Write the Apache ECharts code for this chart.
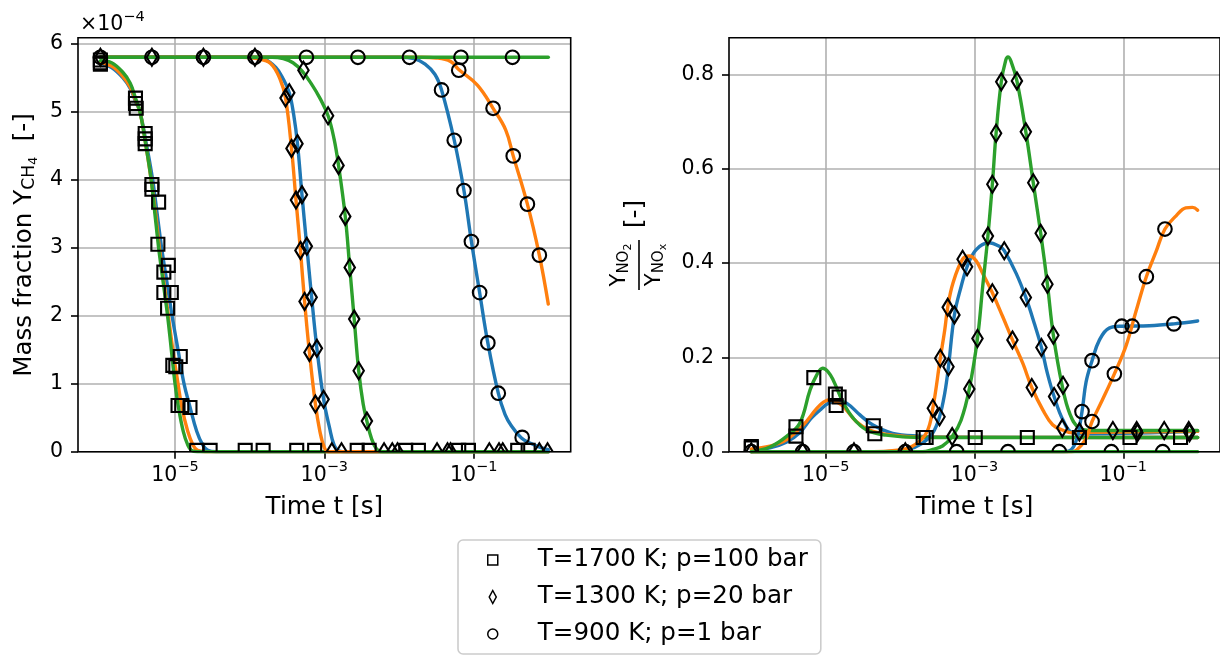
<!DOCTYPE html>
<html><head><meta charset="utf-8">
<script src="https://cdn.jsdelivr.net/npm/echarts@6/dist/echarts.min.js"></script>
<style>html,body{margin:0;padding:0;background:#fff}#c{width:1220px;height:657px}</style>
</head><body><div id="c"></div>
<script>
// ---------- DATA ----------
// Each point: [log10(time / s), value]
// Left panel values: CH4 mass fraction in units of 1e-4; right panel: Y_NO2 / Y_NOx
const conditions = ['T=1700 K; p=100 bar', 'T=1300 K; p=20 bar', 'T=900 K; p=1 bar'];
const xTickExponents = [-5, -3, -1];
const leftYTicks = [0, 1, 2, 3, 4, 5, 6];
const rightYTicks = [0, 0.2, 0.4, 0.6, 0.8];

// ---- Left panel: Y_CH4 ----
const ch4_1700_blue = [[-6,5.71],[-5.85,5.65],[-5.7,5.5],[-5.6,5.34],[-5.53,5.15],[-5.47,5.0],[-5.38,4.5],[-5.3,4.0],[-5.24,3.5],[-5.18,3.0],[-5.11,2.5],[-5.04,2.0],[-4.96,1.5],[-4.88,1.0],[-4.8,0.66],[-4.71,0.3],[-4.63,0.1],[-4.56,0.02],[-4.45,0],[0,0]];
const ch4_1700_orange = [[-6,5.72],[-5.85,5.67],[-5.7,5.52],[-5.6,5.36],[-5.53,5.17],[-5.47,5.0],[-5.39,4.5],[-5.32,4.0],[-5.26,3.5],[-5.21,3.0],[-5.15,2.5],[-5.09,2.0],[-5.03,1.5],[-4.96,1.0],[-4.91,0.66],[-4.83,0.3],[-4.76,0.1],[-4.7,0.02],[-4.6,0],[0,0]];
const ch4_1700_green = [[-6,5.75],[-5.85,5.72],[-5.7,5.58],[-5.6,5.42],[-5.53,5.2],[-5.47,5.0],[-5.39,4.5],[-5.32,4.0],[-5.27,3.5],[-5.22,3.0],[-5.16,2.5],[-5.1,2.0],[-5.05,1.5],[-5.0,1.0],[-4.955,0.66],[-4.89,0.3],[-4.83,0.1],[-4.78,0.02],[-4.7,0],[0,0]];
const ch4_1300_blue = [[-6,5.8],[-4.0,5.8],[-3.8,5.77],[-3.65,5.65],[-3.55,5.48],[-3.47,5.28],[-3.41,4.95],[-3.36,4.53],[-3.3,3.78],[-3.235,3.02],[-3.17,2.27],[-3.1,1.52],[-3.01,0.77],[-2.93,0.35],[-2.87,0.1],[-2.8,0.01],[-2.7,0],[0,0]];
const ch4_1300_orange = [[-6,5.8],[-4.1,5.8],[-3.9,5.78],[-3.72,5.71],[-3.59,5.47],[-3.52,5.2],[-3.44,4.46],[-3.38,3.7],[-3.32,2.96],[-3.265,2.21],[-3.2,1.46],[-3.12,0.7],[-3.06,0.3],[-3.0,0.06],[-2.95,0],[0,0]];
const ch4_1300_green = [[-6,5.8],[-3.7,5.8],[-3.55,5.78],[-3.42,5.72],[-3.3,5.6],[-3.18,5.42],[-3.06,5.2],[-2.95,4.94],[-2.87,4.6],[-2.81,4.21],[-2.72,3.46],[-2.66,2.71],[-2.6,1.95],[-2.54,1.19],[-2.48,0.7],[-2.43,0.45],[-2.37,0.2],[-2.3,0.04],[-2.22,0],[0,0]];
const ch4_900_blue = [[-6,5.8],[-2.0,5.8],[-1.8,5.78],[-1.65,5.7],[-1.52,5.55],[-1.43,5.32],[-1.26,4.58],[-1.13,3.84],[-1.03,3.09],[-0.92,2.34],[-0.81,1.6],[-0.67,0.86],[-0.58,0.55],[-0.5,0.39],[-0.36,0.2],[-0.23,0.12],[-0.1,0.06],[0,0.03]];
const ch4_900_orange = [[-6,5.8],[-1.7,5.8],[-1.5,5.79],[-1.31,5.74],[-1.2,5.62],[-0.95,5.39],[-0.74,5.05],[-0.57,4.73],[-0.47,4.35],[-0.28,3.64],[-0.12,2.89],[0,2.17]];
const ch4_900_green = [[-6,5.8],[0,5.8]];

const ch4_1700_markers = [[-6,5.76],[-6,5.72],[-6,5.7],[-5.53,5.2],[-5.53,5.12],[-5.52,5.05],[-5.4,4.68],[-5.4,4.6],[-5.4,4.53],[-5.31,3.93],[-5.31,3.86],[-5.22,3.67],[-5.23,3.05],[-5.09,2.74],[-5.15,2.64],[-5.15,2.34],[-5.05,2.34],[-5.1,2.11],[-4.93,1.4],[-5.03,1.27],[-4.99,1.25],[-4.96,0.68],[-4.91,0.68],[-4.8,0.65],[-4.71,0.02],[-4.53,0.02],[-4.06,0.02],[-3.82,0.02],[-3.37,0.02],[-3.13,0.02],[-2.56,0.02],[-2.4,0.02],[-1.91,0.02],[-1.74,0.02],[-1.2,0.02],[-1.07,0.02],[-0.41,0.02],[-0.27,0.02]];
const ch4_1300_markers = [[-6,5.8],[-5.31,5.8],[-4.62,5.8],[-3.93,5.8],[-3.52,5.2],[-3.44,4.46],[-3.38,3.7],[-3.32,2.96],[-3.265,2.21],[-3.2,1.46],[-3.12,0.7],[-3.47,5.28],[-3.36,4.53],[-3.3,3.78],[-3.235,3.02],[-3.17,2.27],[-3.1,1.52],[-3.01,0.77],[-3.28,5.61],[-2.95,4.94],[-2.81,4.21],[-2.72,3.46],[-2.66,2.71],[-2.6,1.95],[-2.54,1.19],[-2.43,0.45],[-2.9,0],[-2.77,0],[-2.2,0],[-2.09,0],[-2.02,0],[-1.49,0],[-1.35,0],[-1.31,0],[-0.79,0],[-0.66,0],[-0.61,0],[-0.12,0],[-0.01,0]];
const ch4_900_markers = [[-6,5.8],[-5.31,5.8],[-4.62,5.8],[-3.93,5.8],[-3.24,5.8],[-2.55,5.8],[-1.86,5.8],[-1.17,5.8],[-0.48,5.8],[-1.43,5.32],[-1.26,4.58],[-1.13,3.84],[-1.03,3.09],[-0.92,2.34],[-0.81,1.6],[-0.67,0.86],[-0.35,0.21],[-1.2,5.61],[-0.74,5.05],[-0.47,4.35],[-0.28,3.64],[-0.12,2.89]];

// ---- Right panel: Y_NO2 / Y_NOx ----
const no2_1700_blue = [[-6,0.004],[-5.75,0.008],[-5.53,0.02],[-5.35,0.04],[-5.2,0.07],[-5.08,0.088],[-4.97,0.102],[-4.85,0.108],[-4.72,0.103],[-4.54,0.078],[-4.37,0.057],[-4.1,0.039],[-3.74,0.033],[-3.3,0.031],[0,0.03]];
const no2_1700_orange = [[-6,0.006],[-5.75,0.012],[-5.53,0.025],[-5.3,0.057],[-5.12,0.092],[-5.03,0.105],[-4.95,0.11],[-4.86,0.106],[-4.77,0.097],[-4.59,0.064],[-4.41,0.046],[-4.1,0.035],[-3.74,0.031],[0,0.03]];
const no2_1700_green = [[-6,0.0],[-5.75,0.01],[-5.53,0.032],[-5.35,0.06],[-5.21,0.131],[-5.12,0.163],[-5.04,0.177],[-4.97,0.17],[-4.9,0.152],[-4.77,0.106],[-4.63,0.071],[-4.45,0.046],[-4.19,0.035],[-3.74,0.03],[0,0.03]];
const no2_1300_blue = [[-6,0],[-4.2,0],[-3.9,0.005],[-3.7,0.018],[-3.56,0.04],[-3.47,0.074],[-3.4,0.124],[-3.35,0.18],[-3.27,0.29],[-3.18,0.35],[-3.1,0.392],[-2.98,0.428],[-2.81,0.443],[-2.66,0.435],[-2.6,0.426],[-2.44,0.378],[-2.31,0.327],[-2.19,0.269],[-2.1,0.221],[-2.02,0.166],[-1.93,0.117],[-1.81,0.067],[-1.68,0.04],[-1.5,0.038],[0,0.043]];
const no2_1300_orange = [[-6,0],[-4.5,0],[-4.0,0.004],[-3.8,0.015],[-3.64,0.042],[-3.56,0.092],[-3.46,0.198],[-3.4,0.258],[-3.36,0.306],[-3.29,0.357],[-3.16,0.408],[-3.07,0.415],[-2.98,0.405],[-2.89,0.378],[-2.76,0.337],[-2.62,0.286],[-2.49,0.237],[-2.35,0.187],[-2.23,0.136],[-2.08,0.088],[-1.95,0.057],[-1.82,0.046],[-1.68,0.04],[-1.5,0.041],[0,0.043]];
const no2_1300_green = [[-6,0],[-3.7,0],[-3.56,0.005],[-3.43,0.012],[-3.3,0.032],[-3.18,0.067],[-3.07,0.133],[-2.96,0.24],[-2.89,0.35],[-2.82,0.457],[-2.76,0.567],[-2.71,0.675],[-2.64,0.784],[-2.58,0.83],[-2.55,0.837],[-2.51,0.828],[-2.43,0.786],[-2.31,0.678],[-2.21,0.57],[-2.11,0.463],[-2.02,0.355],[-1.94,0.247],[-1.82,0.139],[-1.72,0.081],[-1.59,0.05],[-1.41,0.045],[0,0.045]];
const no2_900_blue = [[-6,0],[-1.8,0],[-1.72,0.002],[-1.63,0.025],[-1.555,0.085],[-1.5,0.148],[-1.42,0.193],[-1.32,0.237],[-1.19,0.262],[-1.02,0.266],[-0.65,0.267],[-0.32,0.271],[0,0.277]];
const no2_900_orange = [[-6,0],[-1.7,0],[-1.63,0.003],[-1.5,0.028],[-1.42,0.064],[-1.28,0.11],[-1.12,0.165],[-0.96,0.226],[-0.83,0.297],[-0.69,0.371],[-0.56,0.424],[-0.44,0.472],[-0.29,0.5],[-0.16,0.517],[-0.07,0.518],[0,0.512]];
const no2_900_green = [[-6,0],[0,0]];

const no2_1700_markers = [[-6,0.011],[-6,0.008],[-5.4,0.053],[-5.4,0.033],[-5.16,0.157],[-4.87,0.122],[-4.82,0.116],[-4.86,0.098],[-4.36,0.055],[-4.34,0.038],[-3.69,0.03],[-3.65,0.03],[-2.99,0.03],[-2.29,0.03],[-1.59,0.03],[-0.91,0.03],[-0.23,0.03]];
const no2_1300_markers = [[-6,0],[-5.31,0],[-4.62,0],[-3.93,0],[-3.56,0.092],[-3.46,0.198],[-3.36,0.306],[-3.16,0.408],[-2.76,0.337],[-2.49,0.237],[-2.23,0.136],[-1.82,0.05],[-3.47,0.074],[-3.35,0.18],[-3.27,0.29],[-3.1,0.392],[-2.6,0.426],[-2.31,0.327],[-2.1,0.221],[-1.93,0.117],[-3.3,0.032],[-3.07,0.133],[-2.96,0.24],[-2.82,0.457],[-2.76,0.567],[-2.71,0.675],[-2.64,0.784],[-2.43,0.786],[-2.31,0.678],[-2.21,0.57],[-2.11,0.463],[-2.02,0.355],[-1.94,0.247],[-1.81,0.141],[-1.59,0.042],[-1.14,0.045],[-0.82,0.045],[-0.81,0.04],[-0.45,0.045],[-0.12,0.045],[-0.11,0.04]];
const no2_900_markers = [[-6,0],[-5.31,0],[-4.62,0],[-3.93,0],[-3.24,0],[-2.55,0],[-1.86,0],[-1.16,0],[-0.47,0],[-1.555,0.085],[-1.42,0.193],[-1.02,0.266],[-0.88,0.266],[-0.32,0.271],[-1.42,0.064],[-1.12,0.165],[-0.69,0.371],[-0.44,0.472]];

// ---------- BUILD ----------
const FONT = 'DejaVu Sans';
const C_BLUE = '#1f77b4', C_ORANGE = '#ff7f0e', C_GREEN = '#2ca02c';
const toT = arr => arr.map(p => [Math.pow(10, p[0]), p[1]]);

function lineSeries(arr, color, gi) {
  return {type: 'line', xAxisIndex: gi, yAxisIndex: gi, data: toT(arr), showSymbol: false,
    symbol: 'none', smooth: 0.4, clip: true, z: 2,
    lineStyle: {color: color, width: 3.4, cap: 'round', join: 'round'}, itemStyle: {color: color}, silent: true};
}
function markerSeries(arr, name, kind, gi) {
  return {type: 'custom', name: name, xAxisIndex: gi, yAxisIndex: gi, data: toT(arr), clip: true, z: 3,
    encode: {x: 0, y: 1}, silent: true,
    itemStyle: {color: 'rgba(0,0,0,0)', borderColor: '#000', borderWidth: 1.5},
    renderItem: function (params, api) {
      const p = api.coord([api.value(0), api.value(1)]);
      const st = {fill: 'none', stroke: '#000', lineWidth: 2.1};
      if (kind === 'square') return {type: 'rect', shape: {x: p[0] - 6.5, y: p[1] - 6.5, width: 13, height: 13}, style: st};
      if (kind === 'circle') return {type: 'circle', shape: {cx: p[0], cy: p[1], r: 6.8}, style: st};
      return {type: 'polygon', shape: {points: [[p[0], p[1] - 8.5], [p[0] + 5.2, p[1]], [p[0], p[1] + 8.5], [p[0] - 5.2, p[1]]]}, style: st};
    }};
}

const xTicks = xTickExponents.map(e => Math.pow(10, e));
function xAxisCfg(gi) {
  return {type: 'log', logBase: 10, gridIndex: gi, min: Math.pow(10, -6.3), max: Math.pow(10, 0.3),
    name: 'Time t [s]', nameLocation: 'middle', nameGap: 43,
    nameTextStyle: {fontFamily: FONT, fontSize: 24.6, color: '#000'},
    axisLine: {show: false},
    axisTick: {show: true, inside: false, length: 7, lineStyle: {color: '#000', width: 1.6}, customValues: xTicks},
    axisLabel: {show: true, margin: 8, customValues: xTicks, color: '#000',
      formatter: v => '{b|10}{s|\u2212' + Math.round(-Math.log10(v)) + '}',
      rich: {b: {fontFamily: FONT, fontSize: 20.5, color: '#000'},
             s: {fontFamily: FONT, fontSize: 14.5, color: '#000', padding: [0, 0, 16, 0]}}},
    splitLine: {show: true, lineStyle: {color: '#b0b0b0', width: 1.6}},
    minorTick: {show: false}, minorSplitLine: {show: false}};
}
function yAxisCfg(gi, max, ticks, fmt) {
  return {type: 'value', gridIndex: gi, min: 0, max: max,
    axisLine: {show: false},
    axisTick: {show: true, inside: false, length: 7, lineStyle: {color: '#000', width: 1.6}, customValues: ticks},
    axisLabel: {show: true, margin: 15, customValues: ticks, color: '#000', fontFamily: FONT, fontSize: 20.5, formatter: fmt},
    splitLine: {show: true, lineStyle: {color: '#b0b0b0', width: 1.6}}};
}

const series = [
  lineSeries(ch4_1700_blue, C_BLUE, 0), lineSeries(ch4_1700_orange, C_ORANGE, 0), lineSeries(ch4_1700_green, C_GREEN, 0),
  lineSeries(ch4_1300_blue, C_BLUE, 0), lineSeries(ch4_1300_orange, C_ORANGE, 0), lineSeries(ch4_1300_green, C_GREEN, 0),
  lineSeries(ch4_900_blue, C_BLUE, 0), lineSeries(ch4_900_orange, C_ORANGE, 0), lineSeries(ch4_900_green, C_GREEN, 0),
  lineSeries(no2_1700_blue, C_BLUE, 1), lineSeries(no2_1700_orange, C_ORANGE, 1), lineSeries(no2_1700_green, C_GREEN, 1),
  lineSeries(no2_1300_blue, C_BLUE, 1), lineSeries(no2_1300_orange, C_ORANGE, 1), lineSeries(no2_1300_green, C_GREEN, 1),
  lineSeries(no2_900_blue, C_BLUE, 1), lineSeries(no2_900_orange, C_ORANGE, 1), lineSeries(no2_900_green, C_GREEN, 1),
  markerSeries(ch4_1700_markers, conditions[0], 'square', 0),
  markerSeries(ch4_1300_markers, conditions[1], 'diamond', 0),
  markerSeries(ch4_900_markers, conditions[2], 'circle', 0),
  markerSeries(no2_1700_markers, conditions[0], 'square', 1),
  markerSeries(no2_1300_markers, conditions[1], 'diamond', 1),
  markerSeries(no2_900_markers, conditions[2], 'circle', 1)
];

const option = {
  animation: false,
  backgroundColor: '#fff',
  textStyle: {fontFamily: FONT},
  grid: [
    {left: 78, top: 37.7, width: 492.7, height: 414, show: true, borderColor: '#000', borderWidth: 1.6, backgroundColor: 'rgba(0,0,0,0)', z: 10},
    {left: 729, top: 37.7, width: 492.7, height: 414, show: true, borderColor: '#000', borderWidth: 1.6, backgroundColor: 'rgba(0,0,0,0)', z: 10}
  ],
  xAxis: [xAxisCfg(0), xAxisCfg(1)],
  yAxis: [yAxisCfg(0, 6.088, leftYTicks, v => String(Math.round(v))),
          yAxisCfg(1, 0.8776, rightYTicks, v => v.toFixed(1))],
  legend: {
    orient: 'vertical', left: 458, top: 540, padding: [6, 13, 6, 29],
    itemWidth: 10, itemHeight: 13, itemGap: 9, symbolKeepAspect: true,
    backgroundColor: '#fff', borderColor: '#cccccc', borderWidth: 1.6, borderRadius: 5,
    textStyle: {fontFamily: FONT, fontSize: 24.6, color: '#000', lineHeight: 28, padding: [0, 0, 0, 35]},
    itemStyle: {color: 'rgba(0,0,0,0)', borderColor: '#000', borderWidth: 1.5},
    data: [
      {name: conditions[0], icon: 'path://M0,0 L10,0 L10,10 L0,10 Z'},
      {name: conditions[1], icon: 'path://M3.5,0 L7,6.5 L3.5,13 L0,6.5 Z'},
      {name: conditions[2], icon: 'circle'}
    ]
  },
  graphic: [
    {type: 'text', x: 80, y: 25, silent: true, style: {
      text: '{a|\u00d710}{s|\u22124}', verticalAlign: 'middle', align: 'left',
      rich: {a: {fontFamily: FONT, fontSize: 20.5, fill: '#000'},
             s: {fontFamily: FONT, fontSize: 14.5, fill: '#000', padding: [0, 0, 16, 0]}}}},
    {type: 'text', x: 25, y: 245, rotation: Math.PI / 2, silent: true, style: {
      text: '{a|Mass fraction Y}{b|CH}{c|4}{a|  [-]}', align: 'center', verticalAlign: 'middle',
      rich: {a: {fontFamily: FONT, fontSize: 24.6, fill: '#000'},
             b: {fontFamily: FONT, fontSize: 17.2, fill: '#000', padding: [10, 0, 0, 0]},
             c: {fontFamily: FONT, fontSize: 12.5, fill: '#000', padding: [18, 0, 0, 0]}}}},
    {type: 'group', x: 639, y: 265, rotation: Math.PI / 2, silent: true, children: [
      {type: 'line', shape: {x1: -25, y1: 0, x2: 25, y2: 0}, style: {stroke: '#000', lineWidth: 1.6}},
      {type: 'text', x: 0, y: -19, style: {text: '{a|Y}{b|NO}{c|2}', align: 'center', verticalAlign: 'middle',
        rich: {a: {fontFamily: FONT, fontSize: 21, fill: '#000'},
               b: {fontFamily: FONT, fontSize: 15, fill: '#000', padding: [9, 0, 0, 0]},
               c: {fontFamily: FONT, fontSize: 11, fill: '#000', padding: [16, 0, 0, 0]}}}},
      {type: 'text', x: 0, y: 16, style: {text: '{a|Y}{b|NO}{c|x}', align: 'center', verticalAlign: 'middle',
        rich: {a: {fontFamily: FONT, fontSize: 21, fill: '#000'},
               b: {fontFamily: FONT, fontSize: 15, fill: '#000', padding: [9, 0, 0, 0]},
               c: {fontFamily: FONT, fontSize: 11, fill: '#000', padding: [16, 0, 0, 0]}}}},
      {type: 'text', x: 51, y: -3, style: {text: '[-]', align: 'center', verticalAlign: 'middle',
        font: '24.6px "DejaVu Sans"', fill: '#000'}}
    ]}
  ],
  series: series
};

const chart = echarts.init(document.getElementById('c'), null, {renderer: 'canvas'});
chart.setOption(option);
</script>
</body></html>
